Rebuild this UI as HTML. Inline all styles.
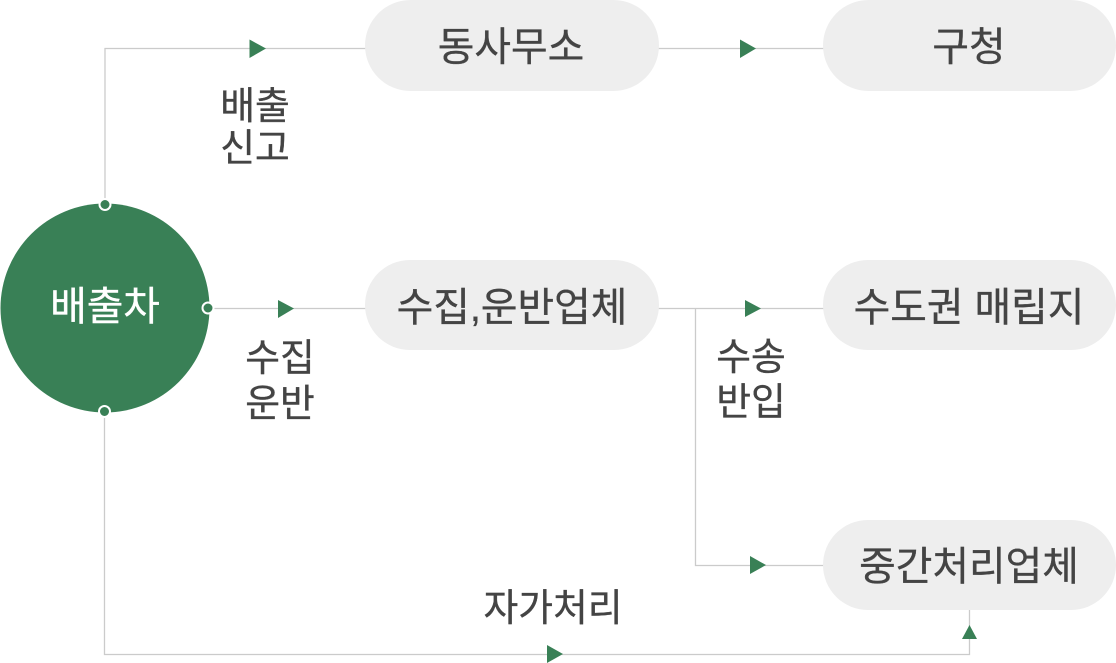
<!DOCTYPE html>
<html lang="ko">
<head>
<meta charset="utf-8">
<style>
html,body{margin:0;padding:0;background:#fff;width:1116px;height:663px;overflow:hidden}
svg{display:block}
text{font-family:"Liberation Sans","Noto Sans CJK KR",sans-serif;fill:#444;stroke:#444;stroke-width:.35px;font-size:39.8px;text-anchor:middle}
text.l{font-size:37.8px}
</style>
</head>
<body>
<svg width="1116" height="663" viewBox="0 0 1116 663" xmlns="http://www.w3.org/2000/svg">
<g fill="none" stroke="#cbcbcb" stroke-width="1.3">
<path d="M105 204V48.500H366"/>
<path d="M658 48.500H824"/>
<path d="M208 308.500H366"/>
<path d="M658 308.500H824"/>
<path d="M695.500 308.500V565.500H824"/>
<path d="M104.500 411V654.500H969.500V609"/>
</g>
<rect x="365" y="0" width="294" height="91" rx="45.500" fill="#eeeeee"/>
<rect x="823" y="0" width="293" height="91" rx="45.500" fill="#eeeeee"/>
<rect x="365" y="260" width="294" height="90" rx="45" fill="#eeeeee"/>
<rect x="823" y="260" width="293" height="90" rx="45" fill="#eeeeee"/>
<rect x="823" y="520" width="293" height="90" rx="45" fill="#eeeeee"/>
<circle cx="105" cy="308" r="104.500" fill="#398056"/>
<g fill="#398056" stroke="#fff" stroke-width="2">
<circle cx="105" cy="204.500" r="5.500"/>
<circle cx="208" cy="308" r="5.500"/>
<circle cx="104.500" cy="411.500" r="5.500"/>
</g>
<g fill="#398056">
<polygon points="249.500,39.500 266,48.500 249.500,58"/>
<polygon points="740,39.500 756,48.500 740,58"/>
<polygon points="278,300 294,308.500 278,318"/>
<polygon points="745,300 761,308.500 745,317"/>
<polygon points="750,556 766,565 750,574"/>
<polygon points="547,645 563,654 547,663"/>
<polygon points="969.500,625 977,639 962,639"/>
</g>
<text x="511" y="60.500">동사무소</text>
<text x="969" y="60.500">구청</text>
<text x="512" y="321">수집,운반업체</text>
<text x="969" y="321">수도권 매립지</text>
<text x="969" y="580">중간처리업체</text>
<text x="105" y="320" style="fill:#fff;stroke:#fff">배출차</text>
<text class="l" x="255" y="119">배출</text>
<text class="l" x="255" y="161">신고</text>
<text class="l" x="280" y="371">수집</text>
<text class="l" x="280" y="416.500">운반</text>
<text class="l" x="751" y="370">수송</text>
<text class="l" x="751" y="415">반입</text>
<text class="l" x="553" y="621">자가처리</text>
</svg>
</body>
</html>
